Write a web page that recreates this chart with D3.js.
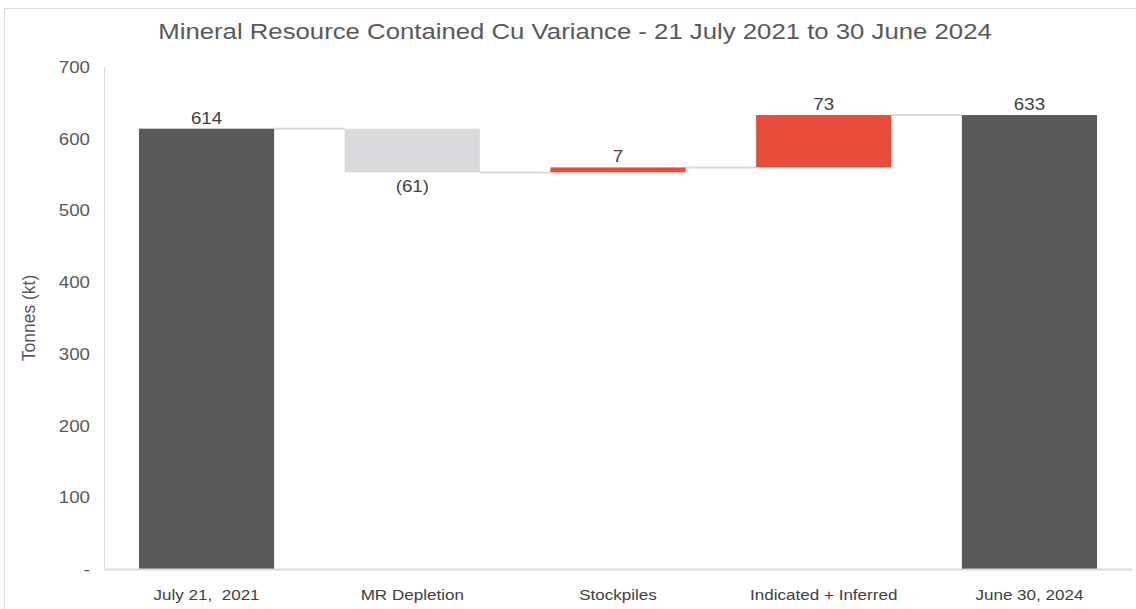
<!DOCTYPE html>
<html>
<head>
<meta charset="utf-8">
<script src="https://cdn.jsdelivr.net/npm/d3@7"></script>
<style>
  body { margin: 0; background: #fff; }
  text { font-family: "Liberation Sans", Arial, sans-serif; white-space: pre; }
</style>
</head>
<body>
<div id="chart"></div>
<script>
// waterfall data
const categories = ["July 21,  2021", "MR Depletion", "Stockpiles", "Indicated + Inferred", "June 30, 2024"];
const changes = [614, -61, 7, 73, 633];
const isTotal = [true, false, false, false, true];
const labels = ["614", "(61)", "7", "73", "633"];
const yTicks = [0, 100, 200, 300, 400, 500, 600, 700];

const width = 1136, height = 609;
const margin = {top: 67, right: 4, bottom: 40, left: 104};
const sx = 1.1; // text in the picture is a bit wide

const svg = d3.select("#chart").append("svg")
    .attr("width", width)
    .attr("height", height);

// outer frame
svg.append("rect")
    .attr("x", 4.5).attr("y", 8.5)
    .attr("width", 1140).attr("height", 620)
    .attr("fill", "none")
    .attr("stroke", "#d9d9d9");

svg.append("text")
    .attr("transform", "translate(575, 39) scale(1.17, 1)")
    .attr("text-anchor", "middle")
    .attr("font-size", 22)
    .attr("fill", "#595959")
    .text("Mineral Resource Contained Cu Variance - 21 July 2021 to 30 June 2024");

// compute running totals
let running = 0;
const bars = categories.map((c, i) => {
    let start, end;
    if (isTotal[i]) {
        start = 0; end = changes[i]; running = changes[i];
    } else {
        start = running; end = running + changes[i]; running = end;
    }
    return {cat: c, start, end, value: changes[i], total: isTotal[i], label: labels[i]};
});

const x = d3.scaleBand()
    .domain(categories)
    .range([margin.left, width - margin.right])
    .paddingInner(0.343)
    .paddingOuter(0.17);

const y = d3.scaleLinear()
    .domain([0, 700])
    .range([height - margin.bottom, margin.top]);

// y axis line
svg.append("line")
    .attr("x1", margin.left + 0.5).attr("x2", margin.left + 0.5)
    .attr("y1", y(700)).attr("y2", y(0))
    .attr("stroke", "#d9d9d9");

svg.selectAll(".ytick")
    .data(yTicks)
    .join("text")
    .attr("class", "ytick")
    .attr("transform", d => `translate(90, ${y(d) + 6}) scale(${sx}, 1)`)
    .attr("text-anchor", "end")
    .attr("font-size", 17)
    .attr("fill", "#595959")
    .text(d => d === 0 ? "-" : d);

svg.append("text")
    .attr("transform", `translate(35, ${(y(0) + y(700)) / 2}) rotate(-90)`)
    .attr("text-anchor", "middle")
    .attr("font-size", 17.5)
    .attr("fill", "#595959")
    .text("Tonnes (kt)");

// connectors
const connectors = bars.slice(0, -1).map((b, i) => ({
    x1: x(b.cat) + x.bandwidth(),
    x2: x(bars[i + 1].cat),
    v: b.end
}));
svg.selectAll(".conn")
    .data(connectors)
    .join("line")
    .attr("class", "conn")
    .attr("x1", d => d.x1).attr("x2", d => d.x2)
    .attr("y1", d => y(d.v)).attr("y2", d => y(d.v))
    .attr("stroke", "#d9d9d9")
    .attr("stroke-width", 2);

function barColor(d) {
    if (d.total) return "#595959";
    return d.value < 0 ? "#dadadc" : "#e84c3b";
}

svg.selectAll(".bar")
    .data(bars)
    .join("rect")
    .attr("class", "bar")
    .attr("x", d => x(d.cat))
    .attr("width", x.bandwidth())
    .attr("y", d => y(Math.max(d.start, d.end)))
    .attr("height", d => Math.abs(y(d.start) - y(d.end)))
    .attr("fill", barColor);

// baseline
svg.append("line")
    .attr("x1", margin.left).attr("x2", width - margin.right)
    .attr("y1", y(0) + 0.5).attr("y2", y(0) + 0.5)
    .attr("stroke", "#d9d9d9")
    .attr("stroke-width", 2);

svg.selectAll(".vlabel")
    .data(bars)
    .join("text")
    .attr("class", "vlabel")
    .attr("transform", d => {
        const cx = x(d.cat) + x.bandwidth() / 2;
        const cy = d.value < 0 ? y(d.end) + 20 : y(Math.max(d.start, d.end)) - 5;
        return `translate(${cx}, ${cy}) scale(${sx}, 1)`;
    })
    .attr("text-anchor", "middle")
    .attr("font-size", 17)
    .attr("fill", "#404040")
    .text(d => d.label);

svg.selectAll(".xlabel")
    .data(bars)
    .join("text")
    .attr("class", "xlabel")
    .attr("transform", d => `translate(${x(d.cat) + x.bandwidth() / 2}, 600) scale(${sx}, 1)`)
    .attr("text-anchor", "middle")
    .attr("font-size", 15.5)
    .attr("fill", "#404040")
    .text(d => d.cat);
</script>
</body>
</html>
